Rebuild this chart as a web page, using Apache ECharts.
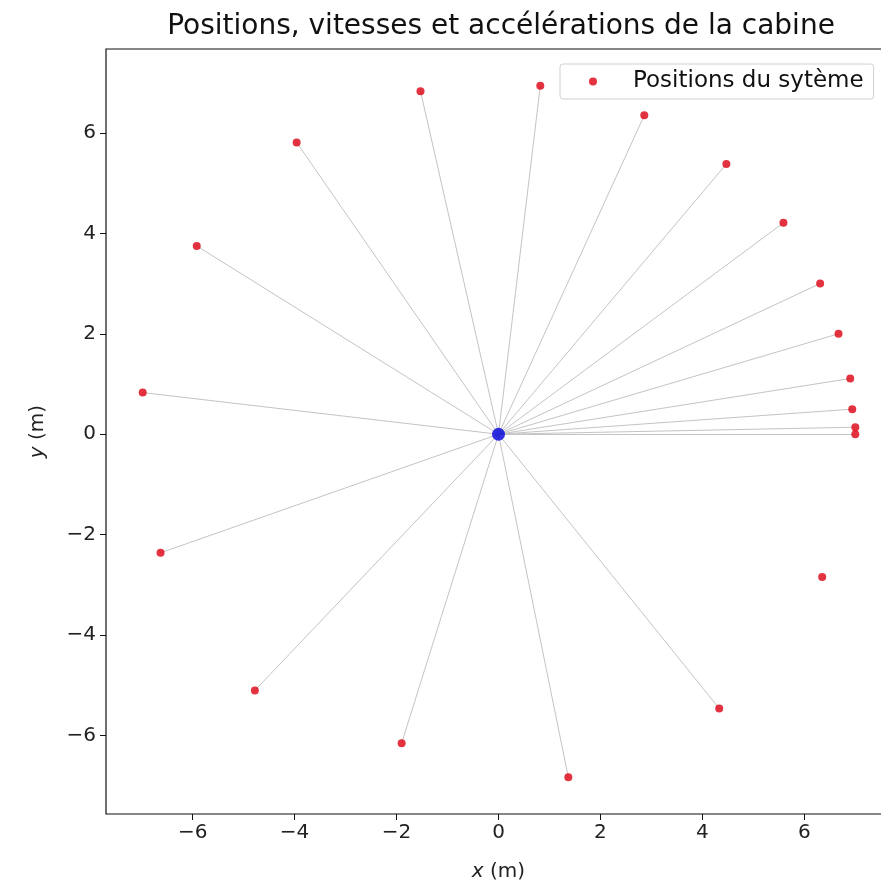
<!DOCTYPE html>
<html>
<head>
<meta charset="utf-8">
<script src="https://cdn.jsdelivr.net/npm/echarts@6/dist/echarts.min.js"></script>
<style>
html,body{margin:0;padding:0;background:#fff;}
#chart{width:881px;height:890px;}
</style>
</head>
<body>
<div id="chart"></div>
<script>
// Data
const posX = [0.82, 2.86, 4.47, 5.59, 6.31, 6.67, 6.90, 6.94, 7.00, 7.00, 6.35, 4.33, 1.37, -1.90, -4.78, -6.63, -6.98, -5.92, -3.96, -1.53];
const posY = [6.94, 6.35, 5.38, 4.21, 3.00, 2.00, 1.11, 0.50, 0.14, 0.00, -2.84, -5.46, -6.83, -6.15, -5.10, -2.36, 0.83, 3.75, 5.81, 6.83];
const hasRay = [true, true, true, true, true, true, true, true, true, true, false, true, true, true, true, true, true, true, true, true];
const centre = [0, 0];
const xTicks = [-6, -4, -2, 0, 2, 4, 6];
const yTicks = [-6, -4, -2, 0, 2, 4, 6];
const xRange = [-7.7, 7.7];
const yRange = [-7.56, 7.67];

const FONT = 'DejaVu Sans';
const points = posX.map((x, i) => [x, posY[i]]);
const rays = points.filter((p, i) => hasRay[i]).map(p => ({coords: [centre, p]}));

const chart = echarts.init(document.getElementById('chart'), null, {renderer: 'canvas'});
const fmt = v => (v < 0 ? '\u2212' + Math.abs(v) : String(v));
chart.setOption({
  animation: false,
  backgroundColor: '#fff',
  title: {
    text: 'Positions, vitesses et accélérations de la cabine',
    left: 496, top: 8, textAlign: 'center',
    textStyle: {fontFamily: FONT, fontSize: 28, fontWeight: 'normal', color: '#111'}
  },
  legend: {
    left: 560, top: 64,
    orient: 'vertical',
    data: [{name: 'Positions du sytème', icon: 'circle'}],
    itemWidth: 14, itemHeight: 8,
    padding: [6, 10, 6, 29],
    borderColor: '#d0d0d0', borderWidth: 1, borderRadius: 3,
    backgroundColor: 'rgba(255,255,255,0.8)',
    textStyle: {fontFamily: FONT, fontSize: 23, color: '#111', padding: [0, 0, 0, 28]}
  },
  grid: {
    left: 106, top: 49, width: 785, bottom: 76,
    outerBoundsMode: 'none', containLabel: false,
    show: true, borderColor: '#111', borderWidth: 1.2, backgroundColor: 'transparent'
  },
  xAxis: {
    type: 'value', min: xRange[0], max: xRange[1],
    axisLine: {show: false, onZero: false},
    splitLine: {show: false},
    axisTick: {show: true, inside: false, length: 6, lineStyle: {color: '#111'}, customValues: xTicks},
    axisLabel: {fontFamily: FONT, fontSize: 20, color: '#222', margin: 9, customValues: xTicks, formatter: fmt},
    name: '{i|x} (m)', nameLocation: 'middle', nameGap: 48,
    nameTextStyle: {fontFamily: FONT, fontSize: 20, color: '#222', rich: {i: {fontFamily: FONT, fontSize: 20, fontStyle: 'italic', color: '#222'}}}
  },
  yAxis: {
    type: 'value', min: yRange[0], max: yRange[1],
    axisLine: {show: false, onZero: false},
    splitLine: {show: false},
    axisTick: {show: true, inside: false, length: 6, lineStyle: {color: '#111'}, customValues: yTicks},
    axisLabel: {fontFamily: FONT, fontSize: 20, color: '#222', margin: 10, customValues: yTicks, formatter: fmt},
    name: '{i|y} (m)', nameLocation: 'middle', nameGap: 58, nameRotate: 90,
    nameTextStyle: {fontFamily: FONT, fontSize: 20, color: '#222', rich: {i: {fontFamily: FONT, fontSize: 20, fontStyle: 'italic', color: '#222'}}}
  },
  series: [
    {
      type: 'lines', coordinateSystem: 'cartesian2d', silent: true,
      lineStyle: {color: '#c4c4c4', width: 1, opacity: 1},
      data: rays, z: 1
    },
    {
      name: 'Positions du sytème', type: 'scatter', symbol: 'circle', symbolSize: 8,
      itemStyle: {color: '#dd0010'}, data: points, z: 3
    },
    {
      name: 'centre', type: 'scatter', symbol: 'circle', symbolSize: 13,
      itemStyle: {color: '#0000dd'}, data: [centre], z: 4
    }
  ]
});
</script>
</body>
</html>
